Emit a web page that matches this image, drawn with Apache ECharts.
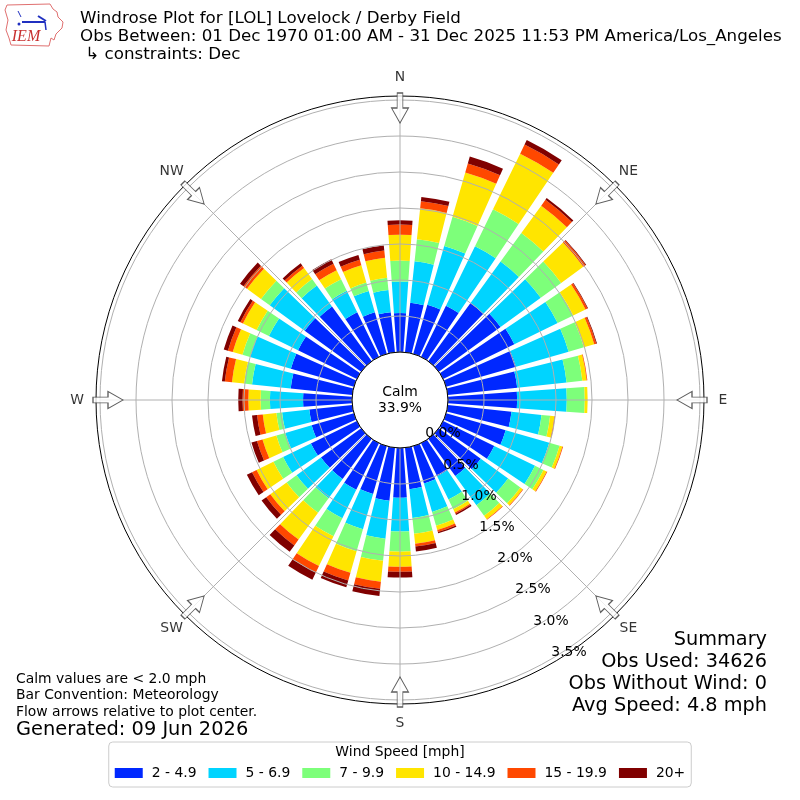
<!DOCTYPE html>
<html>
<head>
<meta charset="utf-8">
<title>Windrose LOL</title>
<script src="https://cdn.jsdelivr.net/npm/echarts@6.0.0/dist/echarts.min.js"></script>
<style>
  html, body { margin: 0; padding: 0; background: #fff; }
  #chart { width: 800px; height: 800px; }
</style>
</head>
<body>
<div id="chart"></div>
<script>
// wind directions (degrees), one bar per 10 deg
const directions = ['0', '10', '20', '30', '40', '50', '60', '70', '80', '90', '100', '110',
  '120', '130', '140', '150', '160', '170', '180', '190', '200', '210', '220', '230',
  '240', '250', '260', '270', '280', '290', '300', '310', '320', '330', '340', '350'];

const speedBins = ['2 - 4.9', '5 - 6.9', '7 - 9.9', '10 - 14.9', '15 - 19.9', '20+'];
const binColors = ['#0028ff', '#00d4ff', '#7dff7a', '#ffe500', '#ff4800', '#800000'];

// frequency [%] of each speed bin per direction
const speed2to5 = [0.54, 0.69, 0.71, 0.79, 1.00, 1.06, 1.10, 1.01, 0.97, 0.96, 0.89, 0.86,
  0.79, 0.72, 0.64, 0.51, 0.54, 0.58, 0.69, 0.74, 0.69, 0.72, 0.69, 0.69,
  0.71, 0.61, 0.60, 0.68, 0.86, 0.91, 0.91, 0.97, 0.94, 0.69, 0.60, 0.56];
const speed5to7 = [0.44, 0.58, 0.85, 0.92, 0.71, 0.69, 0.67, 0.76, 0.69, 0.69, 0.42, 0.63,
  0.63, 0.47, 0.50, 0.36, 0.41, 0.40, 0.47, 0.53, 0.51, 0.44, 0.33, 0.42,
  0.43, 0.38, 0.38, 0.46, 0.54, 0.59, 0.45, 0.60, 0.36, 0.33, 0.31, 0.31];
const speed7to10 = [0.29, 0.31, 0.42, 0.57, 0.49, 0.35, 0.24, 0.22, 0.22, 0.25, 0.12, 0.15,
  0.13, 0.21, 0.18, 0.15, 0.20, 0.22, 0.28, 0.31, 0.32, 0.28, 0.25, 0.17,
  0.15, 0.13, 0.08, 0.13, 0.11, 0.11, 0.19, 0.15, 0.11, 0.18, 0.12, 0.17];
const speed10to15 = [0.36, 0.43, 0.64, 0.86, 0.47, 0.38, 0.19, 0.15, 0.06, 0.04, 0.06, 0.04,
  0.05, 0.04, 0.06, 0.05, 0.06, 0.14, 0.21, 0.29, 0.31, 0.46, 0.46, 0.28,
  0.26, 0.20, 0.19, 0.17, 0.17, 0.14, 0.21, 0.24, 0.19, 0.14, 0.25, 0.28];
const speed15to20 = [0.14, 0.10, 0.13, 0.14, 0.10, 0.04, 0.03, 0.03, 0.01, 0.00, 0.01, 0.01,
  0.01, 0.01, 0.01, 0.02, 0.03, 0.04, 0.07, 0.10, 0.11, 0.10, 0.10, 0.07,
  0.07, 0.08, 0.08, 0.08, 0.10, 0.07, 0.04, 0.06, 0.04, 0.10, 0.08, 0.10];
const speed20up = [0.06, 0.06, 0.10, 0.07, 0.03, 0.01, 0.01, 0.01, 0.00, 0.00, 0.00, 0.00,
  0.00, 0.00, 0.00, 0.02, 0.02, 0.07, 0.08, 0.10, 0.10, 0.11, 0.11, 0.08,
  0.08, 0.08, 0.07, 0.06, 0.04, 0.06, 0.04, 0.06, 0.04, 0.07, 0.07, 0.07];

const binData = [speed2to5, speed5to7, speed7to10, speed10to15, speed15to20, speed20up];

const calmPercent = 33.9;
const compassNames = ['N', 'NE', 'E', 'SE', 'S', 'SW', 'W', 'NW'];
const compassAngles = [0, 45, 90, 135, 180, 225, 270, 315];

const titleLines = [
  'Windrose Plot for [LOL] Lovelock / Derby Field',
  'Obs Between: 01 Dec 1970 01:00 AM - 31 Dec 2025 11:53 PM America/Los_Angeles',
  ' \u21b3 constraints: Dec'
];
const noteLines = ['Calm values are < 2.0 mph', 'Bar Convention: Meteorology', 'Flow arrows relative to plot center.'];
const summaryLines = ['Summary', 'Obs Used: 34626', 'Obs Without Wind: 0', 'Avg Speed: 4.8 mph'];

const FONT = 'DejaVu Sans';
const GRID = '#b0b0b0';

let myChart = echarts.init(document.getElementById('chart'), null, { renderer: 'canvas' });

// text helper for graphic
function txt(text, x, y, size, align, extra) {
  return Object.assign({
    type: 'text', x: x, y: y, z: 20,
    style: {
      text: text, font: size + 'px "' + FONT + '"', fill: '#000',
      textAlign: align || 'left', textVerticalAlign: 'middle'
    }
  }, extra || {});
}

let graphics = [];
titleLines.forEach((t, i) => graphics.push(txt(t, 80, 19 + i * 18, 16.7)));
noteLines.forEach((t, i) => graphics.push(txt(t, 16, 679 + i * 16.5, 13.9)));
graphics.push(txt('Generated: 09 Jun 2026', 16, 730, 19.4));
summaryLines.forEach((t, i) => graphics.push(txt(t, 767, 640 + i * 22, 19.3, 'right')));
graphics.push(txt('Calm', 400, 392, 13.9, 'center'));
graphics.push(txt(calmPercent.toFixed(1) + '%', 400, 408, 13.9, 'center'));
graphics.push(txt('Wind Speed [mph]', 400, 752, 13.9, 'center'));

// IEM logo (rough)
graphics.push({
  type: 'polygon', z: 20,
  shape: { points: [[7, 5], [50, 4], [53, 9], [57, 12], [58, 17], [63, 22], [62, 28], [56, 34], [54, 40], [51, 38], [49, 46], [11, 45], [9, 38], [6, 30], [8, 20], [5, 10]] },
  style: { fill: 'none', stroke: '#e07070', lineWidth: 1 }
});
graphics.push({ type: 'line', z: 21, shape: { x1: 22, y1: 22, x2: 45, y2: 22 }, style: { stroke: '#2030c0', lineWidth: 2 } });
graphics.push({ type: 'line', z: 21, shape: { x1: 38, y1: 16, x2: 46, y2: 21 }, style: { stroke: '#2030c0', lineWidth: 2 } });
graphics.push({ type: 'line', z: 21, shape: { x1: 45, y1: 22, x2: 46, y2: 30 }, style: { stroke: '#2030c0', lineWidth: 1.5 } });
graphics.push({ type: 'line', z: 21, shape: { x1: 18, y1: 11, x2: 21, y2: 17 }, style: { stroke: '#2030c0', lineWidth: 1 } });
graphics.push({ type: 'circle', z: 21, shape: { cx: 19, cy: 24, r: 1.5 }, style: { fill: '#2030c0' } });
graphics.push({
  type: 'text', x: 26, y: 37, z: 21,
  style: { text: 'IEM', font: 'italic 16px "Liberation Serif"', fill: '#c83030', textAlign: 'center', textVerticalAlign: 'middle' }
});

const barSeries = speedBins.map((name, i) => ({
  name: name,
  type: 'bar',
  coordinateSystem: 'polar',
  polarIndex: 0,
  stack: 'wind',
  data: binData[i],
  barCategoryGap: '20%',
  itemStyle: { color: binColors[i], borderWidth: 0 },
  z: 2
}));

const option = {
  animation: false,
  backgroundColor: '#fff',
  polar: [
    { center: [400, 400], radius: [48, 300] },  // bars
    { center: [400, 400], radius: [48, 300] },  // grid
    { center: [400, 400], radius: [42, 294] },  // % labels
    { center: [400, 400], radius: [0, 304] },   // outer frame
    { center: [400, 400], radius: [0, 48] },    // calm circle
    { center: [400, 400], radius: [0, 340] }    // arrows + compass names
  ],
  angleAxis: [
    { polarIndex: 0, type: 'category', data: directions, startAngle: 95, clockwise: true, show: false },
    {
      polarIndex: 1, type: 'value', min: 0, max: 360, interval: 45, startAngle: 90, clockwise: true, z: 5,
      axisLine: { show: false }, axisTick: { show: false }, axisLabel: { show: false },
      splitLine: { show: true, lineStyle: { color: GRID, width: 1 } }, splitArea: { show: false }
    },
    { polarIndex: 2, type: 'value', min: 0, max: 360, startAngle: -60, clockwise: true, show: false },
    {
      polarIndex: 3, type: 'value', min: 0, max: 360, z: 6,
      axisLine: { show: true, lineStyle: { color: '#000', width: 1 } }, axisTick: { show: false },
      axisLabel: { show: false }, splitLine: { show: false }, splitArea: { show: false }
    },
    {
      polarIndex: 4, type: 'value', min: 0, max: 360, z: 6,
      axisLine: { show: true, lineStyle: { color: '#000', width: 1 } }, axisTick: { show: false },
      axisLabel: { show: false }, splitLine: { show: false }, splitArea: { show: false }
    },
    { polarIndex: 5, type: 'value', min: 0, max: 360, startAngle: 90, clockwise: true, show: false }
  ],
  radiusAxis: [
    { polarIndex: 0, type: 'value', min: 0, max: 3.5, show: false },
    {
      polarIndex: 1, type: 'value', min: 0, max: 3.5, interval: 0.5, z: 5,
      axisLine: { show: false }, axisTick: { show: false }, axisLabel: { show: false },
      splitLine: { show: true, lineStyle: { color: GRID, width: 1 } }, splitArea: { show: false }
    },
    {
      polarIndex: 2, type: 'value', min: 0, max: 3.5, interval: 0.5, z: 7,
      axisLine: { show: false }, axisTick: { show: false }, splitLine: { show: false }, splitArea: { show: false },
      axisLabel: {
        show: true, margin: 5, color: '#000', fontSize: 13.9, fontFamily: FONT,
        formatter: v => v.toFixed(1) + '%'
      }
    },
    { polarIndex: 3, type: 'value', min: 0, max: 1, show: false },
    { polarIndex: 4, type: 'value', min: 0, max: 1, show: false },
    { polarIndex: 5, type: 'value', min: 0, max: 340, show: false }
  ],
  legend: {
    data: speedBins,
    left: 'center',
    top: 742,
    orient: 'horizontal',
    icon: 'rect',
    itemWidth: 28,
    itemHeight: 10,
    itemGap: 12,
    padding: [24, 6, 7, 6],
    borderColor: '#cccccc',
    borderWidth: 1,
    borderRadius: 4,
    backgroundColor: '#fff',
    selectedMode: false,
    itemStyle: { borderWidth: 0 },
    textStyle: { fontSize: 13.9, color: '#000', fontFamily: FONT, padding: [0, 0, 0, 4] }
  },
  graphic: { elements: graphics },
  series: barSeries.concat([
    {
      // flow arrows pointing to the center
      type: 'scatter',
      coordinateSystem: 'polar',
      polarIndex: 5,
      symbol: 'path://M6,0 L12,0 L12,15 L18,15 L9,30 L0,15 L6,15 Z',
      symbolSize: [17, 30],
      data: compassAngles.map(a => ({ value: [292, a], symbolRotate: -a })),
      itemStyle: { color: '#fff', borderColor: '#333', borderWidth: 1 },
      silent: true,
      z: 10
    },
    {
      type: 'scatter',
      coordinateSystem: 'polar',
      polarIndex: 5,
      symbolSize: 1,
      data: compassAngles.map((a, i) => ({ value: [323, a], name: compassNames[i] })),
      itemStyle: { color: 'rgba(0,0,0,0)' },
      label: { show: true, position: 'inside', formatter: '{b}', color: '#000', fontSize: 13.9, fontFamily: FONT },
      silent: true,
      z: 10
    }
  ])
};

myChart.setOption(option);
</script>
</body>
</html>
